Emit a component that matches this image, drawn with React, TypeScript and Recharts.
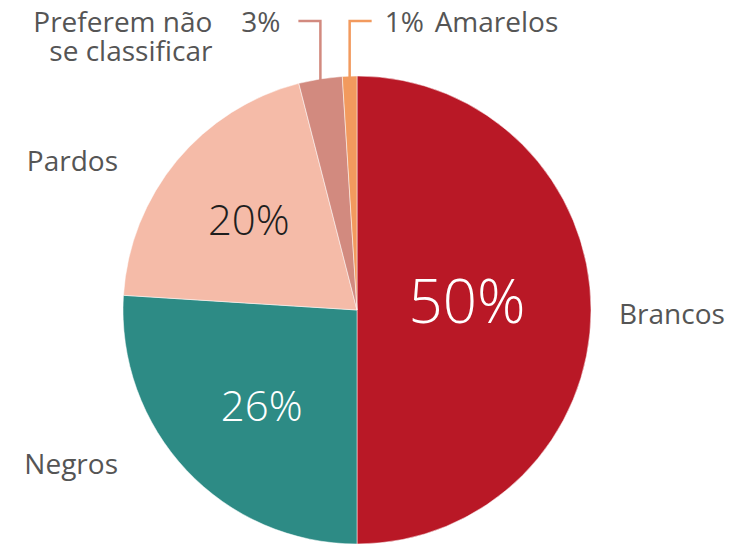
import { PieChart, Pie, Cell } from 'recharts';

const categories = ['Brancos', 'Negros', 'Pardos', 'Preferem não se classificar', 'Amarelos'];
const shares = [50, 26, 20, 3, 1];
const sliceColors = ['#B91826', '#2D8B85', '#F5BBA8', '#D28A7F', '#F29A5E'];
const pctColors = ['#FFFFFF', '#FFFFFF', '#1E1E1E', '#3A3A3A', '#3A3A3A'];

// labels that wrap on two lines
const wrapped: Record<string, string[]> = {
  'Preferem não se classificar': ['Preferem não', 'se classificar'],
};

const data = categories.map((name, i) => ({ name, value: shares[i] }));

const RAD = Math.PI / 180;
const FONT = '"Open Sans", sans-serif';
const GREY = '#555555';
const LABEL_SIZE = 28;

const renderLabel = (props: any) => {
  const { cx, cy, midAngle, outerRadius, index, name, value } = props;
  const cos = Math.cos(-midAngle * RAD);
  const sin = Math.sin(-midAngle * RAD);
  const r = outerRadius;
  const pct = `${value}%`;

  if (value < 5) {
    // small slices: leader line going up, then sideways
    const x0 = cx + r * cos;
    const y0 = cy + r * sin;
    const yTop = cy - r - 55;
    const dir = index === data.length - 1 ? 1 : -1;
    const x1 = x0 + dir * 22;
    const tx = x1 + dir * (dir > 0 ? 13 : 18);
    const lines = wrapped[name] || [name];
    const nameX = dir > 0 ? tx + 50 : tx - 68;
    return (
      <g key={`lab-${index}`}>
        <path d={`M${x0},${y0 + 1}L${x0},${yTop}L${x1},${yTop}`} stroke={sliceColors[index]} strokeWidth={2.5} fill="none" />
        <text x={tx} y={yTop} textAnchor={dir > 0 ? 'start' : 'end'} dominantBaseline="central" fill={GREY} fontSize={LABEL_SIZE} fontFamily={FONT}>
          {pct}
        </text>
        <text x={nameX} y={yTop} textAnchor={dir > 0 ? 'start' : 'end'} dominantBaseline="central" fill={GREY} fontSize={LABEL_SIZE} fontFamily={FONT}>
          {lines.map((ln, k) => (
            <tspan key={k} x={nameX} dy={k === 0 ? 0 : 29}>
              {ln}
            </tspan>
          ))}
        </text>
      </g>
    );
  }

  const big = value >= 50;
  const ir = big ? 0.47 : 0.6;
  const px = cx + r * ir * cos + (sin > 0 ? 7 : 0);
  const py = cy + r * ir * sin + (big ? -10 : -2);
  const right = cos > 0;
  const nx = right ? cx + r + 28 : cx - r - 5;
  const ny = cy + 229 / 234 * r * sin + (right ? 3 : -4);
  return (
    <g key={`lab-${index}`}>
      <text x={px} y={py} textAnchor="middle" dominantBaseline="central" fill={pctColors[index]} fontSize={big ? 60 : 42} fontWeight={300} fontFamily={FONT}>
        {pct}
      </text>
      <text x={nx} y={ny} textAnchor={right ? 'start' : 'end'} dominantBaseline="central" fill={GREY} fontSize={LABEL_SIZE} fontFamily={FONT}>
        {name}
      </text>
    </g>
  );
};

export default function App() {
  return (
    <div style={{ position: 'absolute', left: 0, top: 0, width: 749, height: 545, background: '#fff' }}>
      <PieChart width={749} height={545} margin={{ top: 0, right: 0, bottom: 0, left: 0 }}>
        <Pie
          data={data}
          dataKey="value"
          nameKey="name"
          cx={357}
          cy={310}
          outerRadius={234}
          startAngle={90}
          endAngle={-270}
          stroke="#ffffff"
          strokeWidth={0.5}
          label={renderLabel}
          labelLine={false}
          isAnimationActive={false}
        >
          {data.map((d, i) => (
            <Cell key={d.name} fill={sliceColors[i]} />
          ))}
        </Pie>
      </PieChart>
    </div>
  );
}
